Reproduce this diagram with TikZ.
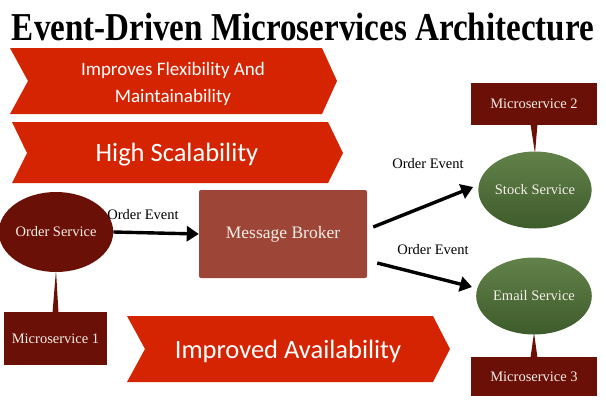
\documentclass[tikz,border=0pt]{standalone}
\usepackage{fontspec}
\setmainfont{Liberation Serif}
\newfontfamily\bannerfont{Carlito}
\usetikzlibrary{arrows.meta,shapes.geometric,calc,backgrounds}

\definecolor{bannerred}{HTML}{D42402}
\definecolor{darkmaroon}{HTML}{6A1006}
\definecolor{brokerred}{HTML}{9D4536}
\definecolor{leaftop}{HTML}{62824A}
\definecolor{leafbottom}{HTML}{3E5B2B}
\definecolor{paletext}{HTML}{F4EEE8}

\tikzset{
  banner/.style={fill=bannerred},
  bannertext/.style={text=white, align=center, inner sep=0pt},
  smalltext/.style={font=\fontsize{14.5}{17}\selectfont},
  svcbox/.style={rectangle, fill=darkmaroon, inner sep=0pt, text=paletext,
    smalltext, minimum width=126pt},
  svc/.style={ellipse, inner sep=0pt, text=paletext, smalltext,
    minimum width=104pt, minimum height=77pt},
  greensvc/.style={svc, top color=leaftop, bottom color=leafbottom},
  flow/.style={line width=3.4pt, -{Triangle[length=12pt,width=15pt]}},
  evt/.style={smalltext, inner sep=0pt},
  stem/.style={fill=darkmaroon}
}

\begin{document}
\begin{tikzpicture}[x=1pt,y=-1pt]
\useasboundingbox (0,0) rectangle (606,400);

% heading
\node[anchor=base, inner sep=0pt] (title) at (303,40)
  {\scalebox{0.87}[1.04]{\bfseries\fontsize{38}{40}\selectfont Event-Driven Microservices Architecture}};

% benefit banners
\fill[banner] (10,48) -- (322,48) -- (337,81) -- (322,114) -- (10,114) -- (28,81) -- cycle;
\node[bannertext, font=\bannerfont\fontsize{19}{27}\selectfont] (flex) at (173,84)
  {Improves Flexibility And\\Maintainability};

\fill[banner] (12,122) -- (328,122) -- (343,153) -- (328,183) -- (12,183) -- (27,153) -- cycle;
\node[bannertext, font=\bannerfont\fontsize{26.5}{30}\selectfont] (scal) at (177,155)
  {High Scalability};

\fill[banner] (127,316) -- (433,316) -- (450,349) -- (433,382) -- (127,382) -- (145,349) -- cycle;
\node[bannertext, font=\bannerfont\fontsize{26.5}{30}\selectfont] (avail) at (288,351)
  {Improved Availability};

% services
\node[svc, fill=darkmaroon, minimum width=104pt, minimum height=80pt] (order) at (56,232) {Order Service};
\node[svcbox, minimum width=103pt, minimum height=53pt] (ms1) at (55.5,338.5) {Microservice 1};

\node[rectangle, rounded corners=2pt, fill=brokerred, text=paletext,
  minimum width=168pt, minimum height=88pt, inner sep=0pt,
  font=\fontsize{17.5}{20}\selectfont] (broker) at (283,234) {Message Broker};

\node[greensvc] (stock) at (535,190) {Stock Service};
\node[svcbox, minimum height=42pt] (ms2) at (534,104) {Microservice 2};

\node[greensvc] (email) at (534,296) {Email Service};
\node[svcbox, minimum height=39pt] (ms3) at (534,376.5) {Microservice 3};

% pointers from each microservice box to its service
\begin{scope}[on background layer]
  \fill[stem] ($(ms1.north)+(-3,1)$) -- ($(ms1.north)+(3,1)$) -- ($(order.south)+(0,-2)$) -- cycle;
  \fill[stem] ($(ms2.south)+(-3.5,-1)$) -- ($(ms2.south)+(3.5,-1)$) -- ($(stock.north)+(0,2)$) -- cycle;
  \fill[stem] ($(ms3.north)+(-3.5,1)$) -- ($(ms3.north)+(3.5,1)$) -- ($(email.south)+(0,-2)$) -- cycle;
\end{scope}

% event flow
\draw[flow] (order.east) -- (broker.west);
\node[evt] (e1) at (143,215) {Order Event};

\draw[flow] ($(broker.east)+(6,-7)$) -- ($(stock.west)+(-5,-3)$);
\node[evt] (e2) at (428,164) {Order Event};

\draw[flow] ($(broker.east)+(10,29)$) -- ($(email.west)+(-4,-9)$);
\node[evt] (e3) at (433,250) {Order Event};

\end{tikzpicture}
\end{document}
